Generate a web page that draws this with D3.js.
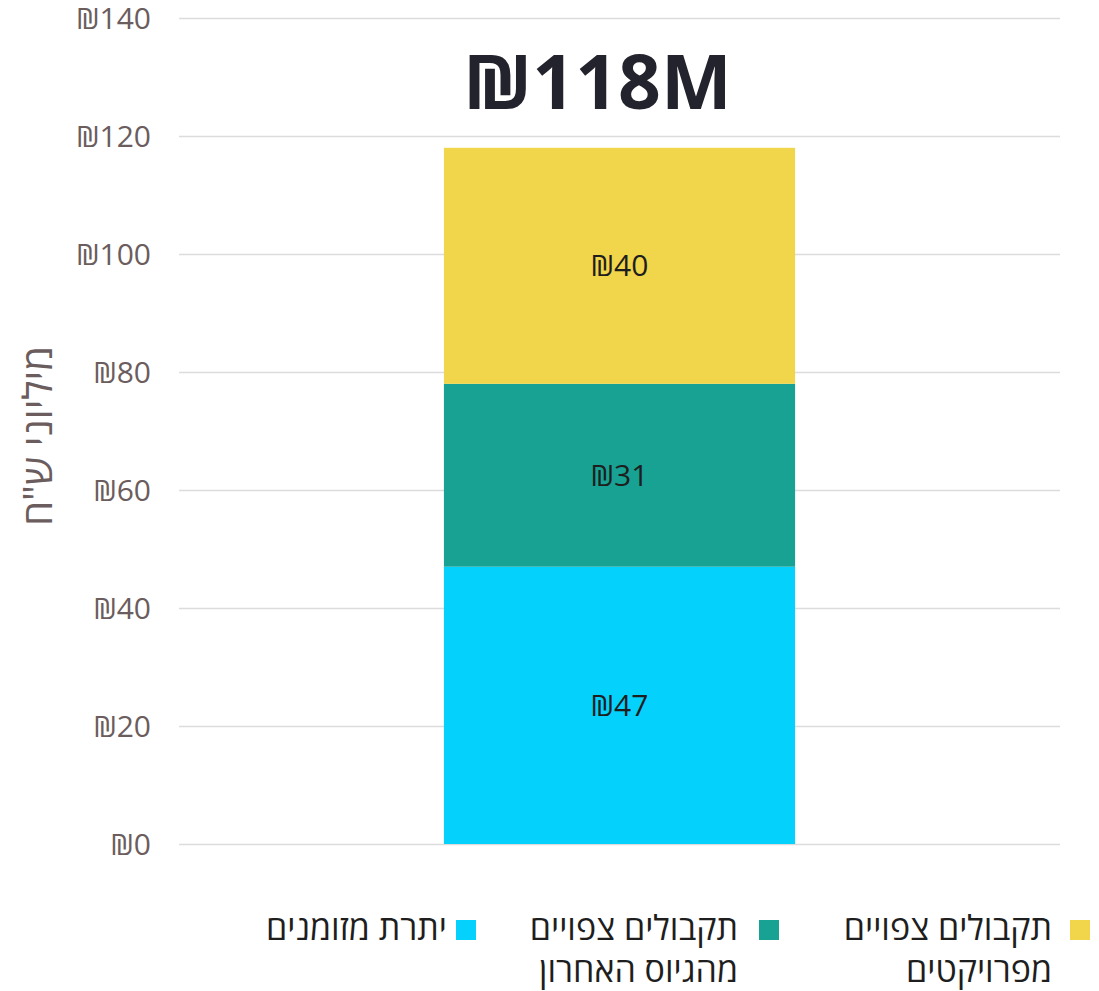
<!DOCTYPE html>
<html>
<head>
<meta charset="utf-8">
<script src="https://cdn.jsdelivr.net/npm/d3@7"></script>
<style>
  body { margin: 0; background: #fff; }
  svg { display: block; font-family: "Open Sans", "Noto Sans", "DejaVu Sans", sans-serif; }
</style>
</head>
<body>
<svg id="chart" width="1099" height="991"></svg>
<script>
// data (millions of shekels)
var categories = ["סה\"כ"];
var seriesKeys = ["cash", "lastRaise", "projects"];
var seriesNames = [["יתרת מזומנים"], ["תקבולים צפויים", "מהגיוס האחרון"], ["תקבולים צפויים", "מפרויקטים"]];
var seriesColors = ["#05d1fd", "#17a294", "#f1d54b"];
var cash = [47];
var lastRaise = [31];
var projects = [40];
var yTicks = [0, 20, 40, 60, 80, 100, 120, 140];
var totalLabel = "₪118M";
var yTitle = "מיליוני ש\"ח";

var rows = categories.map(function (c, i) {
  return { cat: c, cash: cash[i], lastRaise: lastRaise[i], projects: projects[i] };
});

var svg = d3.select("#chart");
var margin = { left: 179, right: 39, top: 18, bottom: 147 };
var W = 1099, H = 991;

var x = d3.scaleBand()
  .domain(categories)
  .range([margin.left, W - margin.right])
  .padding(0.43);

var y = d3.scaleLinear()
  .domain([0, 140])
  .range([H - margin.bottom, margin.top]);

// gridlines + tick labels
var yAxis = d3.axisLeft(y)
  .tickValues(yTicks)
  .tickSize(-(W - margin.left - margin.right))
  .tickPadding(28)
  .tickFormat(function (d) { return "₪" + d; });

var gy = svg.append("g")
  .attr("transform", "translate(" + margin.left + ",0)")
  .call(yAxis)
  .attr("font-family", null)
  .attr("font-size", null);
gy.select(".domain").remove();
gy.selectAll(".tick line").attr("stroke", "#dcdcdc").attr("stroke-width", 1.5);
gy.selectAll(".tick text")
  .attr("fill", "#6b5d5d")
  .style("font-size", "30px")
  .attr("dy", "0.35em");

// stacked bar
var stack = d3.stack().keys(seriesKeys)(rows);

var layers = svg.append("g").selectAll("g")
  .data(stack)
  .enter().append("g")
  .attr("fill", function (d, i) { return seriesColors[i]; });

layers.selectAll("rect")
  .data(function (d) { return d; })
  .enter().append("rect")
  .attr("x", function (d) { return x(d.data.cat); })
  .attr("width", x.bandwidth())
  .attr("y", function (d) { return y(d[1]); })
  .attr("height", function (d) { return y(d[0]) - y(d[1]); });

layers.selectAll("text")
  .data(function (d) { return d; })
  .enter().append("text")
  .attr("x", function (d) { return x(d.data.cat) + x.bandwidth() / 2; })
  .attr("y", function (d) { return (y(d[0]) + y(d[1])) / 2; })
  .attr("dy", "0.35em")
  .attr("text-anchor", "middle")
  .attr("fill", "#1e1e1e")
  .style("font-size", "30px")
  .text(function (d) { return "₪" + (d[1] - d[0]); });

// total on top
svg.append("text")
  .attr("x", x(categories[0]) + x.bandwidth() / 2 - 22)
  .attr("y", 109)
  .attr("text-anchor", "middle")
  .attr("fill", "#23232d")
  .style("font-size", "75px")
  .style("font-weight", 700)
  .text(totalLabel);

// y title
svg.append("text")
  .attr("transform", "translate(38,436) rotate(-90)")
  .attr("text-anchor", "middle")
  .attr("dy", "0.35em")
  .attr("fill", "#6b5d5d")
  .style("font-size", "40px")
  .text(yTitle);

// legend
var legendRight = [476, 779, 1090];
var legendGap = [29, 41, 38];
var legend = svg.append("g").selectAll("g")
  .data(seriesNames)
  .enter().append("g")
  .attr("transform", function (d, i) { return "translate(" + legendRight[i] + ",920)"; });

legend.append("rect")
  .attr("x", -20)
  .attr("width", 20)
  .attr("height", 20)
  .attr("fill", function (d, i) { return seriesColors[i]; });

legend.each(function (names, i) {
  d3.select(this).selectAll("text")
    .data(names)
    .enter().append("text")
    .attr("x", -legendGap[i])
    .attr("y", function (d, j) { return 20 + j * 42; })
    .attr("text-anchor", "end")
    .attr("fill", "#1e1e1e")
    .style("font-size", "34px")
    .text(function (d) { return d; });
});
</script>
</body>
</html>
